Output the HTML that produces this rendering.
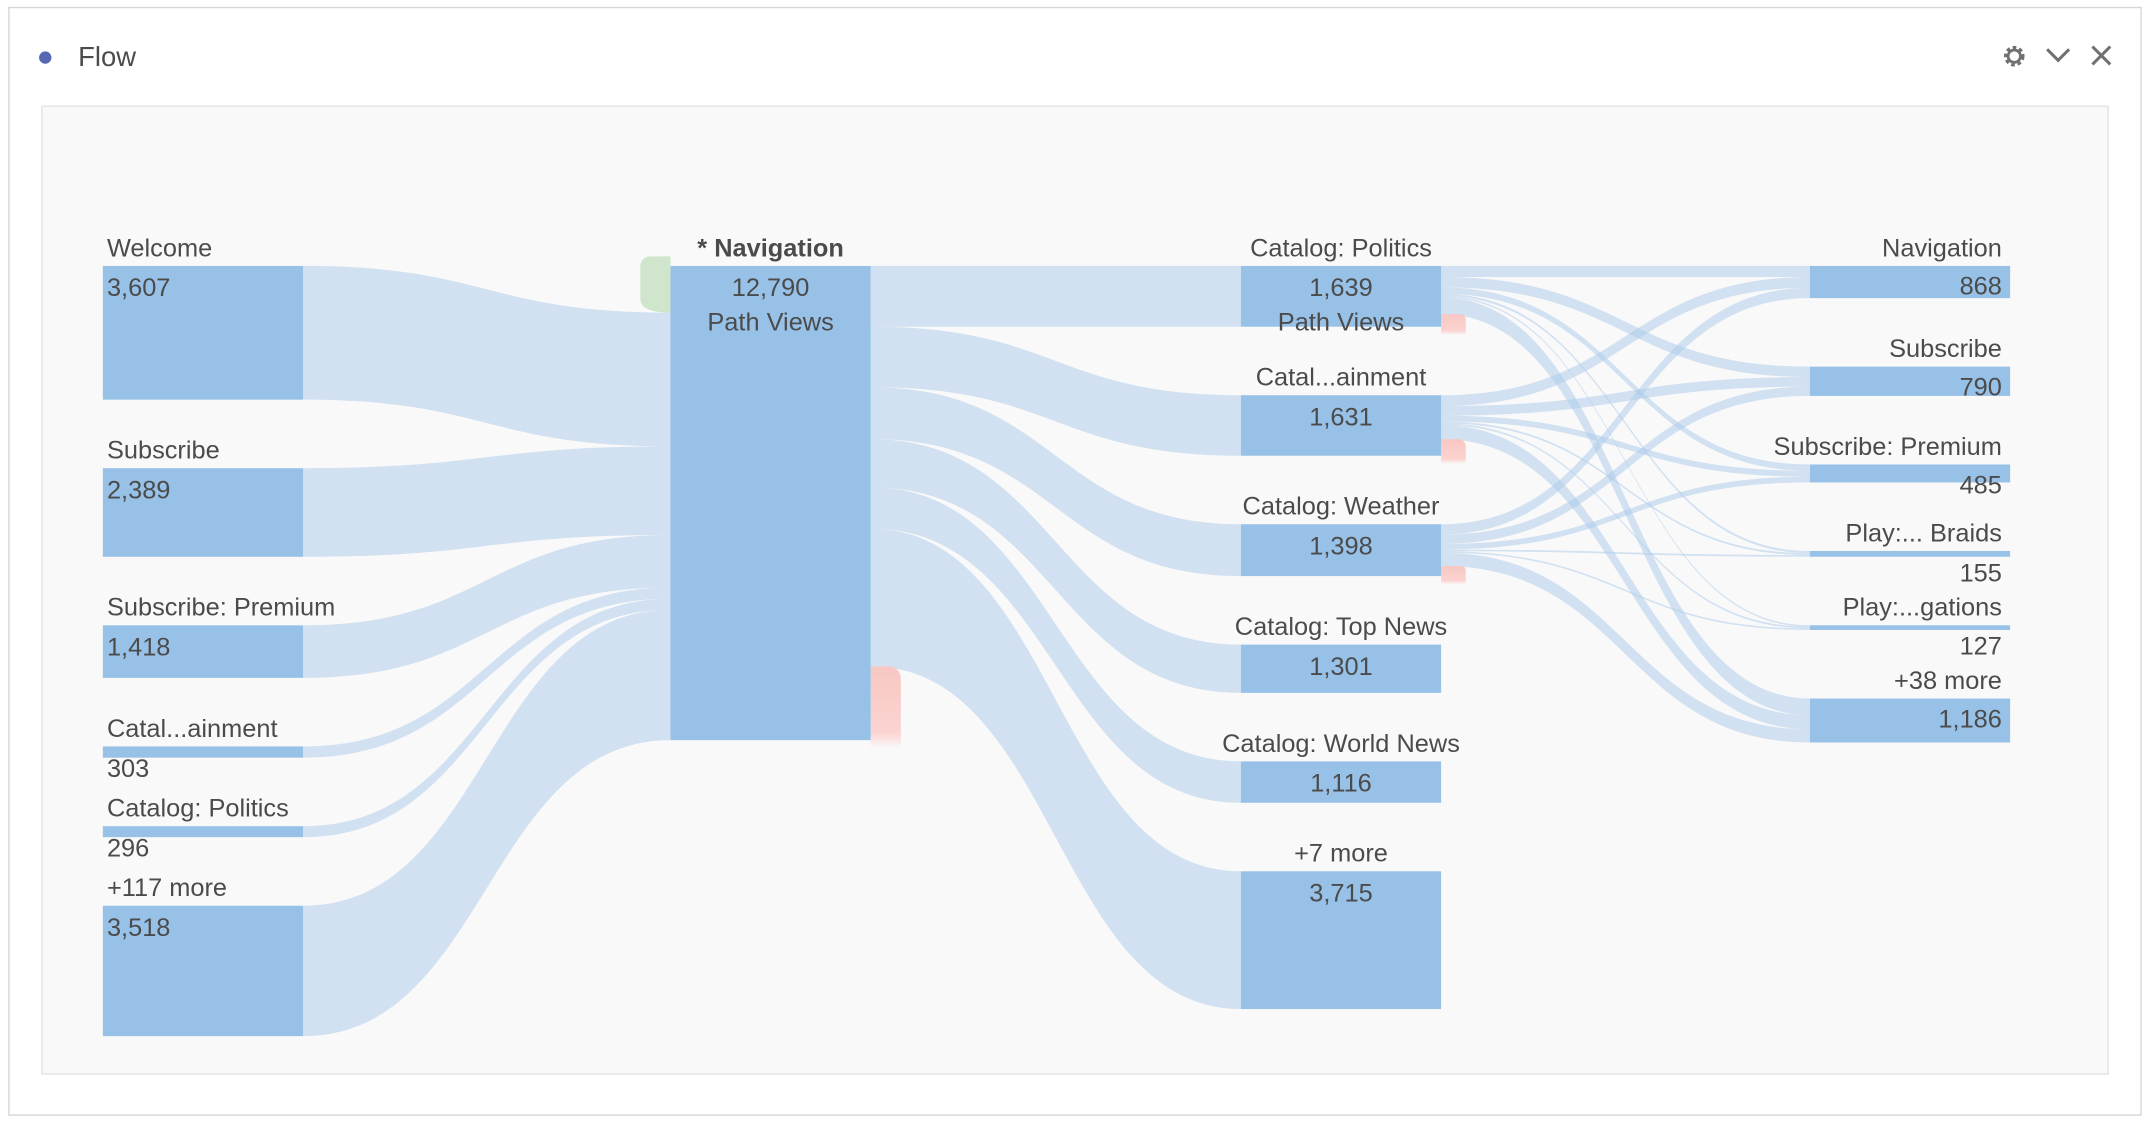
<!DOCTYPE html>
<html><head><meta charset="utf-8">
<style>
html,body{margin:0;padding:0;background:#fff;}
svg{display:block;font-family:"Liberation Sans",sans-serif;}
</style></head>
<body>
<svg id="chart" width="2150" height="1124" viewBox="0 0 1568 820" preserveAspectRatio="none" xmlns="http://www.w3.org/2000/svg">
<defs>
<linearGradient id="redg" x1="0" y1="0" x2="0" y2="1"><stop offset="0" stop-color="#f8c7c3"/><stop offset="0.8" stop-color="#fbd3d0"/><stop offset="1" stop-color="#fbd3d0" stop-opacity="0"/></linearGradient>
<linearGradient id="greeng" x1="0" y1="0" x2="0" y2="1"><stop offset="0" stop-color="#cfe6cc"/><stop offset="1" stop-color="#cfe6cc"/></linearGradient>
</defs>
<rect x="6.5" y="5.5" width="1555" height="808" fill="#fff" stroke="#d6d6d6"/>
<circle cx="33" cy="42" r="4.5" fill="#5468b4"/>
<text x="57" y="48" font-size="20" fill="#4b4b4b">Flow</text>
<g transform="translate(1469,41)">
<circle r="6" fill="none" stroke="#707070" stroke-width="3" stroke-dasharray="2.5 2"/>
<circle r="4.5" fill="none" stroke="#707070" stroke-width="2"/>
</g>
<path d="M1493 36 L1501 44 L1509 36" fill="none" stroke="#707070" stroke-width="2.2"/>
<path d="M1526 34 L1539 47 M1539 34 L1526 47" fill="none" stroke="#707070" stroke-width="2.2"/>
<rect x="30.5" y="77.5" width="1507" height="706" fill="#f9f9f9" stroke="#e2e2e2"/>
<g id="links"></g>
<g id="nodes"></g>
</svg>
<script>
const col1Labels = ["Welcome","Subscribe","Subscribe: Premium","Catal...ainment","Catalog: Politics","+117 more"];
const col1Values = [3607,2389,1418,303,296,3518];
const col2Label = "* Navigation";
const col2Value = 12790;
const col3Labels = ["Catalog: Politics","Catal...ainment","Catalog: Weather","Catalog: Top News","Catalog: World News","+7 more"];
const col3Values = [1639,1631,1398,1301,1116,3715];
const col4Labels = ["Navigation","Subscribe","Subscribe: Premium","Play:... Braids","Play:...gations","+38 more"];
const col4Values = [868,790,485,155,127,1186];
const politicsToCol4 = [300,280,170,60,40,450];
const entertainmentToCol4 = [290,260,160,50,45,380];
const weatherToCol4 = [278,250,155,45,42,356];

const NS="http://www.w3.org/2000/svg";
const K=0.02705, TOP=194, GAP=50, W=146;
const X=[75,489,905,1320];
const linksG=document.getElementById('links'), nodesG=document.getElementById('nodes');
function mk(tag,attrs,parent){const e=document.createElementNS(NS,tag);for(const a in attrs)e.setAttribute(a,attrs[a]);parent.appendChild(e);return e;}
function stack(vals){let y=TOP;return vals.map(v=>{const r={y:y,h:v*K};y+=v*K+GAP;return r;});}
function band(x0,y0,x1,y1,h,name){
  const m=(x0+x1)/2;
  const d=`M${x0},${y0} C${m},${y0} ${m},${y1} ${x1},${y1} L${x1},${y1+h} C${m},${y1+h} ${m},${y0+h} ${x0},${y0+h} Z`;
  const p=mk('path',{d:d,fill:'#a9c9ea','fill-opacity':0.5},linksG);
  
  
}
function txt(s,x,y,anchor,bold,name){
  const t=mk('text',{x:x,y:y,'font-size':18.5,fill:'#4b4b4b','text-anchor':anchor,'font-weight':bold?'bold':'normal'},nodesG);
  t.textContent=s;
  
  
}
function bar(x,y,h,name){
  const r=mk('rect',{x:x,y:y,width:W,height:Math.max(h,1),fill:'#97c1e7'},nodesG);
  
  
}
const fmt=v=>v.toLocaleString('en-US');
const slug=s=>s.toLowerCase().replace(/[^a-z0-9]+/g,'-').replace(/^-|-$/g,'');

const n1=stack(col1Values), n3=stack(col3Values), n4=stack(col4Values);
const navH=col2Value*K;
const inSum=col1Values.reduce((a,b)=>a+b,0);
const entryH=(col2Value-inSum)*K;
let yIn=TOP+entryH;
col1Values.forEach((v,i)=>{band(X[0]+W,n1[i].y,X[1],yIn,v*K,'link-'+slug(col1Labels[i])+'-to-navigation');yIn+=v*K;});
let yOut=TOP;
col3Values.forEach((v,i)=>{band(X[1]+W,yOut,X[2],n3[i].y,v*K,'link-navigation-to-'+slug(col3Labels[i]));yOut+=v*K;});
const navExitY=yOut, navExitH=TOP+navH-yOut;
const mats=[politicsToCol4,entertainmentToCol4,weatherToCol4];
const inOff=col4Values.map(()=>0);
const exits=[];
mats.forEach((row,s)=>{
  let y=n3[s].y;
  row.forEach((v,t)=>{
    band(X[2]+W,y,X[3],n4[t].y+inOff[t],v*K,'link-'+slug(col3Labels[s])+'-to-'+slug(col4Labels[t]));
    y+=v*K;
    inOff[t]+=v*K;
  });
  exits.push({y:y,h:n3[s].y+n3[s].h-y});
});
function exitShape(x,y,h,w,name){
  const r=Math.min(10,h/2);
  const d=`M${x},${y} L${x+w-r},${y} Q${x+w},${y} ${x+w},${y+r} L${x+w},${y+h+6} L${x},${y+h+6} Z`;
  const p=mk('path',{d:d,fill:'url(#redg)'},linksG);
  
  
}
exitShape(X[1]+W,navExitY,navExitH,22,'navigation-exit');
exits.forEach((e,i)=>exitShape(X[2]+W,e.y,Math.max(e.h,6),18,'exit-'+slug(col3Labels[i])));
{
  const x=X[1]-22,y=TOP-7,h=entryH+7;
  const d=`M${X[1]},${y} L${x+8},${y} Q${x},${y} ${x},${y+8} L${x},${y+h-10} Q${x},${y+h} ${X[1]},${y+h} Z`;
  const p=mk('path',{d:d,fill:'url(#greeng)'},linksG);
  
  
}
col1Values.forEach((v,i)=>{
  const n=n1[i];bar(X[0],n.y,n.h,'node-'+slug(col1Labels[i]));
  txt(col1Labels[i],X[0]+3,n.y-7,'start',false,'label-'+slug(col1Labels[i]));
  txt(fmt(v),X[0]+3,n.h>=20?n.y+22:n.y+n.h+14,'start',false,'value-'+slug(col1Labels[i]));
});
bar(X[1],TOP,navH,'node-navigation');
txt(col2Label,X[1]+W/2,TOP-7,'middle',true,'label-navigation');
txt(fmt(col2Value),X[1]+W/2,TOP+22,'middle',false,'value-navigation');
txt('Path Views',X[1]+W/2,TOP+47,'middle',false,'path-views-navigation');
col3Values.forEach((v,i)=>{
  const n=n3[i];bar(X[2],n.y,n.h,'node-'+slug(col3Labels[i]));
  txt(col3Labels[i],X[2]+W/2,n.y-7,'middle',false,'label-'+slug(col3Labels[i]));
  txt(fmt(v),X[2]+W/2,n.y+22,'middle',false,'value-'+slug(col3Labels[i]));
  if(i===0) txt('Path Views',X[2]+W/2,n.y+47,'middle',false,'path-views-'+slug(col3Labels[i]));
});
col4Values.forEach((v,i)=>{
  const n=n4[i];bar(X[3],n.y,n.h,'node-'+slug(col4Labels[i]));
  txt(col4Labels[i],X[3]+W-6,n.y-7,'end',false,'label-'+slug(col4Labels[i]));
  txt(fmt(v),X[3]+W-6,n.h>=20?n.y+21:n.y+n.h+(n.h>8?8:18),'end',false,'value-'+slug(col4Labels[i]));
});
</script>
</body></html>
